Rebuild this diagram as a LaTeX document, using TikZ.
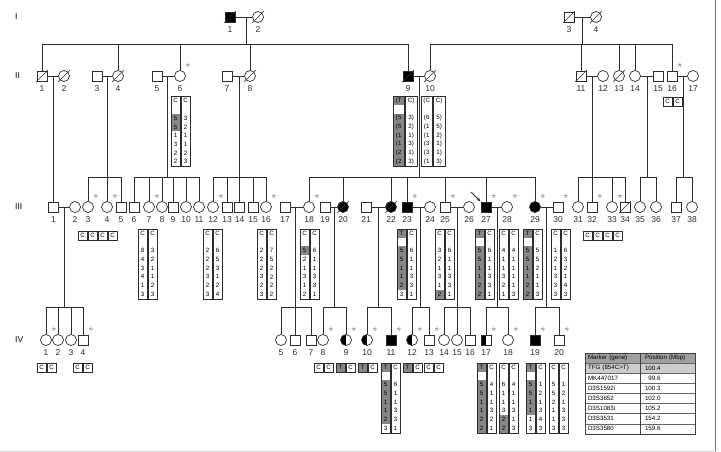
\documentclass[tikz,border=0pt]{standalone}
\usepackage{fontspec}
\setmainfont{Liberation Sans}
\usetikzlibrary{arrows.meta, positioning, calc}
\definecolor{lncol}{RGB}{45, 45, 45}
\definecolor{hapgray}{RGB}{135, 135, 135}
\definecolor{astgray}{RGB}{150, 150, 150}
\definecolor{theadgray}{RGB}{160, 160, 160}
\definecolor{tfggray}{RGB}{205, 205, 205}

\newcommand{\hapfont}{\fontsize{6.2}{7}\selectfont}
\newcommand{\numfont}{\fontsize{8.5}{9}\selectfont}
\newcommand{\astfont}{\fontsize{12}{12}\selectfont}
\newcommand{\tabfont}{\fontsize{6.2}{7}\selectfont}

\newcommand{\hapbox}[6]{%
  \foreach \hs/\hv [count=\ri] in {#5} {
    \node[hcell, \hs, minimum width=#4pt] (#1-a\ri) at (#2+#4/2, #3+8.7*\ri-4.35) {\hv};
    \xdef\hapn{\ri}
  }
  \foreach \hv [count=\ri] in {#6}
    \node[hcell, minimum width=#4pt] (#1-b\ri) at (#2+1.5*#4+1, #3+8.7*\ri-4.35) {\hv};
  \draw[hframe] (#1-a1.north west) rectangle (#1-a\hapn.south east);
  \draw[hframe] (#1-b1.north west) rectangle (#1-b\hapn.south east);
}

\begin{document}
\begin{tikzpicture}[x=1pt, y=-1pt,
  pline/.style={draw=lncol, line width=0.7pt},
  male/.style={draw=lncol, line width=0.7pt, rectangle, minimum size=10pt, inner sep=0pt},
  female/.style={draw=lncol, line width=0.7pt, circle, minimum size=11pt, inner sep=0pt},
  maleaff/.style={male, fill=black},
  femaff/.style={female, fill=black},
  malehalf/.style={male, path picture={\fill[black] (path picture bounding box.south west) rectangle (path picture bounding box.north);}},
  femhalf/.style={female, path picture={\fill[black] (path picture bounding box.south west) rectangle (path picture bounding box.north);}},
  dline/.style={draw=lncol, line width=0.6pt},
  ast/.style={text=astgray, inner sep=0pt, font=\astfont},
  genlbl/.style={anchor=west, inner sep=0pt, font=\numfont},
  every label/.style={font=\numfont, inner sep=0pt, text=lncol},
  label distance=4pt,
  hcell/.style={inner sep=0pt, minimum height=8.7pt, font=\hapfont},
  hg/.style={fill=hapgray},
  hw/.style={},
  hframe/.style={draw=lncol, line width=0.5pt},
  tcell/.style={draw=black!60, line width=0.3pt, minimum height=10.1pt, text width=49pt, inner xsep=3pt, inner ysep=0pt, align=left, font=\tabfont},
  tcellr/.style={tcell, text width=45pt, inner xsep=5pt},
  tframe/.style={draw=black!75, line width=0.7pt}
]
  \fill[white] (0,0) rectangle (721,452);
  \useasboundingbox (0,0) rectangle (721,452);
  \draw[black!55, line width=0.6pt] (715.5,0) -- (715.5,452);
  \draw[black!15, line width=0.6pt] (0,451.5) -- (715.5,451.5);

  \node[genlbl] (gI) at (15,17) {I};
  \node[genlbl] (gII) at (15,76) {II};
  \node[genlbl] (gIII) at (15,207) {III};
  \node[genlbl] (gIV) at (15,340) {IV};

  \foreach \nm/\x/\st in {1/230/maleaff, 2/258/female, 3/569/male, 4/596/female}
    \node[\st, label=below:\nm] (I\nm) at (\x,17) {};
  \foreach \nm/\x/\st in {1/42/male, 2/64/female, 3/97/male, 4/118/female, 5/157/male, 6/180/female,
      7/227/male, 8/250/female, 9/408/maleaff, 10/430/female, 11/581/male, 12/603/female,
      13/619/female, 14/635/female, 15/658/male, 16/672/male, 17/693/female}
    \node[\st, label=below:\nm] (II\nm) at (\x,76) {};
  \foreach \nm/\x/\st in {1/53.5/male, 2/75/female, 3/88/female, 4/107/female, 5/121/male, 6/134/male,
      7/149/female, 8/162/female, 9/173/male, 10/186/female, 11/199/female, 12/213/female,
      13/227/male, 14/239.5/male, 15/253/male, 16/266/female, 17/285/male, 18/309/female,
      19/325/male, 20/343/femaff, 21/366/male, 22/391/femaff, 23/407/maleaff, 24/430/female,
      25/445/male, 26/469/female, 27/486/maleaff, 28/507/female, 29/535/femaff, 30/558/male,
      31/578/female, 32/592/male, 33/612/female, 34/625/male, 35/640/female, 36/656/female,
      37/676/male, 38/692/female}
    \node[\st, label=below:\nm] (III\nm) at (\x,207) {};
  \foreach \nm/\x/\st in {1/46/female, 2/58/female, 3/71/female, 4/83/male, 5/281/female, 6/295/male,
      7/311/male, 8/323/female, 9/346/femhalf, 10/367/femhalf, 11/391/maleaff, 12/412/femhalf,
      13/429/male, 14/444/female, 15/457/female, 16/470/male, 17/486/malehalf, 18/508/female,
      19/535/maleaff, 20/559/male}
    \node[\st, label=below:\nm] (IV\nm) at (\x,340) {};

  \foreach \spa/\spb in {I1/I2, I3/I4, II1/II2, II3/II4, II5/II6, II7/II8, II9/II10, II11/II12,
      II14/II15, II16/II17, III1/III2, III17/III18, III19/III20, III21/III22, III23/III24,
      III25/III26, III27/III28, III29/III30}
    \draw[pline] (\spa) -- (\spb);

  \foreach \fn/\x/\ya/\yb/\kids in {fI12/246/17/44/{II1,II4,II6,II8,II9},
      fI34/582/17/44/{II10,II11,II13,II14,II16},
      fII12/53.5/76/177/{III1}, fII34/107/76/177/{III3,III4,III5},
      fII56/167/76/177/{III6,III7,III8,III9,III10,III11},
      fII78/239/76/177/{III12,III13,III14,III15,III16},
      fII910/419/76/177/{III18,III20,III22,III23,III25,III27,III29},
      fII1112/592/76/177/{III31,III32,III33,III34}, fII1415/647/76/177/{III35,III36},
      fII1617/683/76/177/{III37,III38},
      fIII12/64/207/307/{IV1,IV2,IV3,IV4}, fIII1718/295/207/307/{IV5,IV6,IV7},
      fIII1920/334/207/307/{IV8,IV9}, fIII2122/378/207/307/{IV10,IV11},
      fIII2324/420/207/307/{IV12,IV13}, fIII2526/457/207/307/{IV14,IV15,IV16},
      fIII2728/497/207/307/{IV17,IV18}, fIII2930/546/207/307/{IV19,IV20}} {
    \coordinate (\fn-m) at (\x,\ya);
    \coordinate (\fn-s) at (\x,\yb);
    \draw[pline] (\fn-m) -- (\fn-s);
    \foreach \kid in \kids
      \draw[pline] (\fn-s) -| (\kid);
  }

  \foreach \nm in {I1,I2,I3,I4,II1,II2,II4,II8,II9,II10,II11,II13,III20,III22,III34}
    \draw[dline] ($(\nm)+(-6,6)$) -- ($(\nm)+(6,-6)$);

  \foreach \nm in {II6,II16,III3,III4,III7,III12,III16,III18,III23,III25,III27,III28,III29,III30,
      III32,III33,IV1,IV4,IV8,IV9,IV10,IV11,IV12,IV13,IV17,IV18,IV19,IV20}
    \node[ast] (ast-\nm) at ($(\nm)+(8,-9)$) {*};

  \coordinate (prb) at (471,192);
  \draw[-{Stealth[length=4pt,width=3.5pt]}, draw=lncol, line width=0.8pt, shorten >=0.5pt] (prb) -- (III27.north west);

  \hapbox{hII6}{171}{96.5}{9}{hw/C,hw/{},hg/5,hg/5,hw/1,hw/3,hw/2,hw/2}{C,{},3,2,1,1,2,3}
  \hapbox{gII16}{663}{97}{9}{hw/C}{C}
  \hapbox{hII9}{393}{96.5}{11.5}{hg/{(T},hw/{},hg/{(5},hg/{(5},hg/{(1},hg/{(1},hg/{(2},hg/{(2}}{C),{},3),2),1),3),1),3)}
  \hapbox{hII10}{421}{96.5}{11.5}{hw/{(C},hw/{},hw/{(6},hw/{(1},hw/{(1},hw/{(3},hw/{(3},hw/{(1}}{C),{},5),5),2),1),1),3)}

  \hapbox{gIII3}{78}{231}{9}{hw/C}{C}
  \hapbox{gIII4}{98}{231}{9}{hw/C}{C}
  \hapbox{hIII7}{138}{229}{9}{hw/C,hw/{},hw/8,hw/4,hw/3,hw/4,hw/1,hw/3}{C,{},3,2,1,1,2,3}
  \hapbox{hIII12}{203}{229}{9}{hw/C,hw/{},hw/2,hw/2,hw/2,hw/3,hw/2,hw/3}{C,{},6,5,3,1,2,4}
  \hapbox{hIII16}{257}{229}{9}{hw/C,hw/{},hw/2,hw/2,hw/2,hw/3,hw/2,hw/3}{C,{},7,5,2,2,2,2}
  \hapbox{hIII18}{300}{229}{9}{hw/C,hw/{},hg/5,hw/2,hw/1,hw/3,hw/1,hw/2}{C,{},6,1,1,3,3,1}
  \hapbox{hIII23}{397}{229}{9}{hg/T,hw/{},hg/5,hg/5,hg/1,hg/1,hg/2,hw/3}{C,{},6,1,1,3,3,1}
  \hapbox{hIII25}{435}{229}{9}{hw/C,hw/{},hw/3,hw/2,hw/1,hw/3,hw/1,hg/2}{C,{},6,1,1,3,3,1}
  \hapbox{hIII27}{475}{229}{9}{hg/T,hw/{},hg/5,hg/5,hg/1,hg/1,hg/2,hg/2}{C,{},6,1,1,3,3,1}
  \hapbox{hIII28}{499}{229}{9}{hw/C,hw/{},hw/4,hw/1,hw/1,hw/3,hw/2,hw/1}{C,{},4,1,1,1,1,3}
  \hapbox{hIII29}{523}{229}{9}{hg/T,hw/{},hg/5,hg/5,hg/1,hg/1,hg/2,hg/2}{C,{},5,5,2,1,1,3}
  \hapbox{hIII30}{551}{229}{9}{hw/C,hw/{},hw/1,hw/2,hw/1,hw/3,hw/3,hw/3}{C,{},6,3,2,1,4,3}
  \hapbox{gIII32}{583}{231}{9}{hw/C}{C}
  \hapbox{gIII33}{603}{231}{9}{hw/C}{C}

  \hapbox{gIV1}{37}{363}{9}{hw/C}{C}
  \hapbox{gIV4}{73}{363}{9}{hw/C}{C}
  \hapbox{gIV8}{314}{363}{9}{hw/C}{C}
  \hapbox{gIV9}{336}{363}{9}{hg/T}{C}
  \hapbox{gIV10}{358}{363}{9}{hg/T}{C}
  \hapbox{hIV11}{381}{363}{9}{hg/T,hw/{},hg/5,hg/5,hg/1,hg/1,hg/2,hw/3}{C,{},6,1,1,3,3,1}
  \hapbox{gIV12}{403}{363}{9}{hg/T}{C}
  \hapbox{gIV13}{424}{363}{9}{hw/C}{C}
  \hapbox{hIV17}{477}{363}{9}{hg/T,hw/{},hg/5,hg/5,hg/1,hg/1,hg/2,hg/2}{C,{},4,1,1,3,2,1}
  \hapbox{hIV18}{499}{363}{9}{hw/C,hw/{},hw/6,hw/1,hw/1,hw/3,hg/2,hg/2}{C,{},4,1,1,3,1,3}
  \hapbox{hIV19}{526}{363}{9}{hg/T,hw/{},hg/5,hg/5,hg/1,hg/1,hw/1,hw/3}{C,{},1,2,1,3,4,3}
  \hapbox{hIV20}{549}{363}{9}{hw/C,hw/{},hw/5,hw/5,hw/2,hw/1,hw/1,hw/3}{C,{},1,2,1,3,3,3}

  \fill[theadgray] (585,353) rectangle (695,363.1);
  \fill[tfggray] (585,363.1) rectangle (695,373.2);
  \foreach \mk/\ps [count=\ri] in {{Marker (gene)}/{Position (Mbp)}, {TFG (854C>T)}/100.4,
      MK447017/{\phantom{1}99.6}, D3S1592i/100.3, D3S3652/102.0, D3S1083i/105.2,
      D3S3531/154.2, D3S3580/159.6} {
    \node[tcell] (tm\ri) at (612.5,353+10.1*\ri-5.05) {\mk};
    \node[tcellr] (tp\ri) at (667.5,353+10.1*\ri-5.05) {\ps};
  }
  \draw[tframe] (tm1.north west) rectangle (tp8.south east);
  \draw[tframe] (tm1.north east) -- (tm8.south east);
\end{tikzpicture}
\end{document}
